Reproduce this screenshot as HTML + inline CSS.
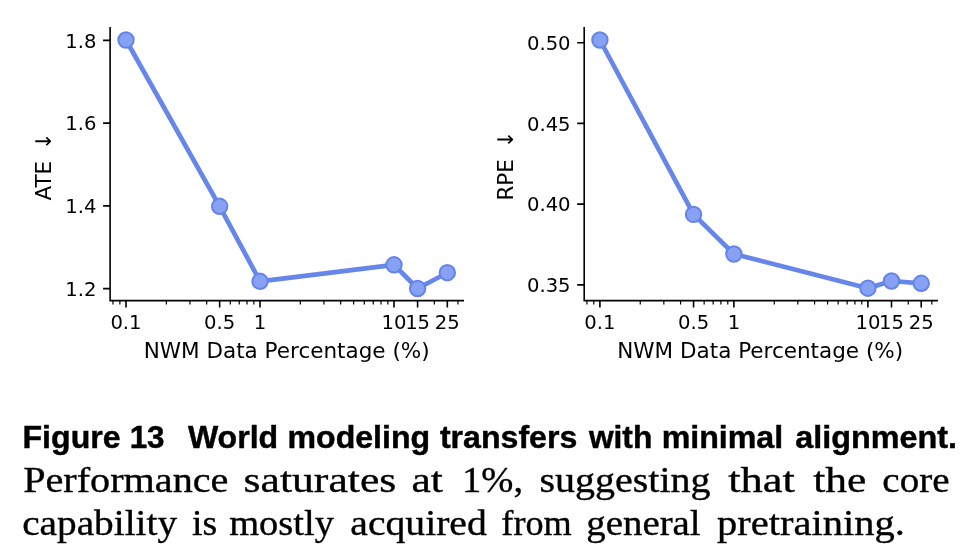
<!DOCTYPE html>
<html lang="en"><head><meta charset="utf-8"><title>Figure 13</title>
<style>
html,body{margin:0;padding:0;background:#fff;}
body{width:980px;height:560px;overflow:hidden;}
svg{display:block;will-change:transform;}
svg text{font-family:"DejaVu Sans","Liberation Sans",sans-serif;fill:#000;}
svg text.cb{font-family:"Liberation Sans",sans-serif;font-weight:700;stroke:#000;stroke-width:0.45px;}
svg text.cs{font-family:"Liberation Serif",serif;stroke:#000;stroke-width:0.35px;}
</style></head><body>
<svg width="980" height="560" viewBox="0 0 980 560">
<rect width="980" height="560" fill="#fff"/>
<g>
<path d="M126.00 40.00 L219.66 206.30 L260.00 281.30 L394.00 264.80 L417.60 288.50 L447.32 272.70" fill="none" stroke="#6686e9" stroke-width="4.7" stroke-linejoin="round" stroke-linecap="butt"/>
<circle cx="126.00" cy="40.00" r="7.7" fill="#87a1f4" stroke="#6484e8" stroke-width="2.0"/>
<circle cx="219.66" cy="206.30" r="7.7" fill="#87a1f4" stroke="#6484e8" stroke-width="2.0"/>
<circle cx="260.00" cy="281.30" r="7.7" fill="#87a1f4" stroke="#6484e8" stroke-width="2.0"/>
<circle cx="394.00" cy="264.80" r="7.7" fill="#87a1f4" stroke="#6484e8" stroke-width="2.0"/>
<circle cx="417.60" cy="288.50" r="7.7" fill="#87a1f4" stroke="#6484e8" stroke-width="2.0"/>
<circle cx="447.32" cy="272.70" r="7.7" fill="#87a1f4" stroke="#6484e8" stroke-width="2.0"/>
<path d="M110.1 27.1 V300.6 H464.0" fill="none" stroke="#000" stroke-width="1.6" stroke-linecap="butt" stroke-linejoin="miter"/>
<path d="M126.00 300.6v7.0M219.66 300.6v7.0M260.00 300.6v7.0M394.00 300.6v7.0M417.60 300.6v7.0M447.32 300.6v7.0" stroke="#000" stroke-width="1.6" fill="none"/>
<path d="M113.01 300.6v4.0M119.87 300.6v4.0M166.34 300.6v4.0M189.93 300.6v4.0M206.68 300.6v4.0M230.27 300.6v4.0M239.24 300.6v4.0M247.01 300.6v4.0M253.87 300.6v4.0M300.34 300.6v4.0M323.93 300.6v4.0M340.68 300.6v4.0M353.66 300.6v4.0M364.27 300.6v4.0M373.24 300.6v4.0M381.01 300.6v4.0M387.87 300.6v4.0M434.34 300.6v4.0M457.93 300.6v4.0" stroke="#000" stroke-width="1.2" fill="none"/>
<text x="126.00" y="329.4" text-anchor="middle" font-size="19.6">0.1</text>
<text x="219.66" y="329.4" text-anchor="middle" font-size="19.6">0.5</text>
<text x="260.00" y="329.4" text-anchor="middle" font-size="19.6">1</text>
<text x="394.00" y="329.4" text-anchor="middle" font-size="19.6">10</text>
<text x="417.60" y="329.4" text-anchor="middle" font-size="19.6">15</text>
<text x="447.32" y="329.4" text-anchor="middle" font-size="19.6">25</text>
<path d="M110.1 40.4h-7.0M110.1 123.15h-7.0M110.1 205.9h-7.0M110.1 288.6h-7.0" stroke="#000" stroke-width="1.6" fill="none"/>
<text x="96.50" y="47.60" text-anchor="end" font-size="19.6">1.8</text>
<text x="96.50" y="130.35" text-anchor="end" font-size="19.6">1.6</text>
<text x="96.50" y="213.10" text-anchor="end" font-size="19.6">1.4</text>
<text x="96.50" y="295.80" text-anchor="end" font-size="19.6">1.2</text>
<text x="286.65" y="357.5" text-anchor="middle" font-size="21.5">NWM Data Percentage (%)</text>
<text transform="translate(50.6 200.6) rotate(-90)" text-anchor="start" font-size="21.5">ATE <tspan dx="3.77">↓</tspan></text>
</g>
<g>
<path d="M599.90 40.00 L693.56 214.40 L733.90 254.00 L867.90 288.20 L891.50 281.00 L921.22 283.30" fill="none" stroke="#6686e9" stroke-width="4.7" stroke-linejoin="round" stroke-linecap="butt"/>
<circle cx="599.90" cy="40.00" r="7.7" fill="#87a1f4" stroke="#6484e8" stroke-width="2.0"/>
<circle cx="693.56" cy="214.40" r="7.7" fill="#87a1f4" stroke="#6484e8" stroke-width="2.0"/>
<circle cx="733.90" cy="254.00" r="7.7" fill="#87a1f4" stroke="#6484e8" stroke-width="2.0"/>
<circle cx="867.90" cy="288.20" r="7.7" fill="#87a1f4" stroke="#6484e8" stroke-width="2.0"/>
<circle cx="891.50" cy="281.00" r="7.7" fill="#87a1f4" stroke="#6484e8" stroke-width="2.0"/>
<circle cx="921.22" cy="283.30" r="7.7" fill="#87a1f4" stroke="#6484e8" stroke-width="2.0"/>
<path d="M584.2 27.1 V300.6 H938.0" fill="none" stroke="#000" stroke-width="1.6" stroke-linecap="butt" stroke-linejoin="miter"/>
<path d="M599.90 300.6v7.0M693.56 300.6v7.0M733.90 300.6v7.0M867.90 300.6v7.0M891.50 300.6v7.0M921.22 300.6v7.0" stroke="#000" stroke-width="1.6" fill="none"/>
<path d="M586.91 300.6v4.0M593.77 300.6v4.0M640.24 300.6v4.0M663.83 300.6v4.0M680.58 300.6v4.0M704.17 300.6v4.0M713.14 300.6v4.0M720.91 300.6v4.0M727.77 300.6v4.0M774.24 300.6v4.0M797.83 300.6v4.0M814.58 300.6v4.0M827.56 300.6v4.0M838.17 300.6v4.0M847.14 300.6v4.0M854.91 300.6v4.0M861.77 300.6v4.0M908.24 300.6v4.0M931.83 300.6v4.0" stroke="#000" stroke-width="1.2" fill="none"/>
<text x="599.90" y="329.4" text-anchor="middle" font-size="19.6">0.1</text>
<text x="693.56" y="329.4" text-anchor="middle" font-size="19.6">0.5</text>
<text x="733.90" y="329.4" text-anchor="middle" font-size="19.6">1</text>
<text x="867.90" y="329.4" text-anchor="middle" font-size="19.6">10</text>
<text x="891.50" y="329.4" text-anchor="middle" font-size="19.6">15</text>
<text x="921.22" y="329.4" text-anchor="middle" font-size="19.6">25</text>
<path d="M584.2 42.7h-7.0M584.2 123.4h-7.0M584.2 204.1h-7.0M584.2 284.9h-7.0" stroke="#000" stroke-width="1.6" fill="none"/>
<text x="570.60" y="49.90" text-anchor="end" font-size="19.6">0.50</text>
<text x="570.60" y="130.60" text-anchor="end" font-size="19.6">0.45</text>
<text x="570.60" y="211.30" text-anchor="end" font-size="19.6">0.40</text>
<text x="570.60" y="292.10" text-anchor="end" font-size="19.6">0.35</text>
<text x="760.20" y="357.5" text-anchor="middle" font-size="21.5">NWM Data Percentage (%)</text>
<text transform="translate(512.7 200.6) rotate(-90)" text-anchor="start" font-size="21.5">RPE <tspan dx="3.77">↓</tspan></text>
</g>
<g>
<text y="447.7" class="cb" font-size="32"><tspan x="22.50" textLength="98.10" lengthAdjust="spacingAndGlyphs">Figure</tspan> <tspan x="129.65" textLength="34.95" lengthAdjust="spacingAndGlyphs">13</tspan> <tspan x="187.90" textLength="90.25" lengthAdjust="spacingAndGlyphs">World</tspan> <tspan x="287.50" textLength="142.65" lengthAdjust="spacingAndGlyphs">modeling</tspan> <tspan x="439.90" textLength="137.40" lengthAdjust="spacingAndGlyphs">transfers</tspan> <tspan x="588.90" textLength="63.40" lengthAdjust="spacingAndGlyphs">with</tspan> <tspan x="661.65" textLength="121.50" lengthAdjust="spacingAndGlyphs">minimal</tspan> <tspan x="795.20" textLength="161.80" lengthAdjust="spacingAndGlyphs">alignment.</tspan></text>
<text y="491.8" class="cs" font-size="35"><tspan x="23.20" textLength="205.25" lengthAdjust="spacingAndGlyphs">Performance</tspan> <tspan x="243.50" textLength="152.80" lengthAdjust="spacingAndGlyphs">saturates</tspan> <tspan x="411.50" textLength="31.48" lengthAdjust="spacingAndGlyphs">at</tspan> <tspan x="462.10" textLength="60.98" lengthAdjust="spacingAndGlyphs">1%,</tspan> <tspan x="539.50" textLength="171.10" lengthAdjust="spacingAndGlyphs">suggesting</tspan> <tspan x="728.20" textLength="66.70" lengthAdjust="spacingAndGlyphs">that</tspan> <tspan x="813.20" textLength="53.10" lengthAdjust="spacingAndGlyphs">the</tspan> <tspan x="882.35" textLength="67.10" lengthAdjust="spacingAndGlyphs">core</tspan></text>
<text y="535.0" class="cs" font-size="35"><tspan x="22.20" textLength="154.85" lengthAdjust="spacingAndGlyphs">capability</tspan> <tspan x="192.05" textLength="25.25" lengthAdjust="spacingAndGlyphs">is</tspan> <tspan x="229.20" textLength="104.70" lengthAdjust="spacingAndGlyphs">mostly</tspan> <tspan x="350.35" textLength="136.40" lengthAdjust="spacingAndGlyphs">acquired</tspan> <tspan x="501.35" textLength="70.40" lengthAdjust="spacingAndGlyphs">from</tspan> <tspan x="586.35" textLength="114.25" lengthAdjust="spacingAndGlyphs">general</tspan> <tspan x="717.05" textLength="187.80" lengthAdjust="spacingAndGlyphs">pretraining.</tspan></text>
</g>
</svg>
</body></html>
